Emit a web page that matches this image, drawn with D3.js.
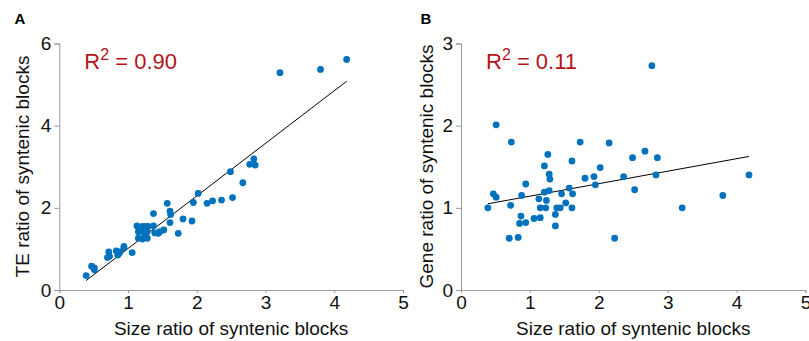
<!DOCTYPE html>
<html lang="en">
<head>
<meta charset="UTF-8" />
<title>Syntenic blocks</title>
<script src="https://d3js.org/d3.v7.js"></script>
<style>
    body { margin: 0; background: #fff; }
    svg text { font-family: "Liberation Sans", Arial, Helvetica, sans-serif; }
</style>
</head>
<body>
<script>
    var w = 809;
    var h = 341;

    // shared x values (size ratio) and y values for each panel
    var sizeRatio = [0.39,0.47,0.51,0.51,0.70,0.72,0.73,0.83,0.85,0.87,0.88,0.94,0.94,1.06,1.13,1.15,1.15,1.21,1.21,1.23,1.24,1.26,1.28,1.28,1.29,1.37,1.37,1.39,1.44,1.46,1.52,1.57,1.61,1.61,1.62,1.73,1.80,1.93,1.95,2.02,2.15,2.23,2.36,2.49,2.52,2.67,2.77,2.83,2.85,3.21,3.80,4.18];
    var teRatio = [0.35,0.58,0.54,0.49,0.79,0.93,0.82,0.95,0.85,0.89,0.93,1.06,1.02,0.91,1.56,1.42,1.26,1.55,1.24,1.42,1.34,1.55,1.26,1.42,1.55,1.86,1.56,1.39,1.38,1.42,1.46,2.11,1.64,1.92,1.84,1.38,1.73,1.68,2.13,2.35,2.11,2.17,2.19,2.88,2.25,2.61,3.06,3.19,3.04,5.29,5.37,5.61];
    var geneRatio = [1.00,1.17,1.13,2.01,0.63,1.03,1.80,0.64,0.81,0.90,1.15,1.29,0.82,0.87,1.11,1.00,0.88,1.51,1.19,1.00,1.09,1.65,1.41,1.21,1.35,0.92,0.78,1.00,1.00,1.17,1.06,1.24,1.57,1.00,1.17,1.80,1.36,1.38,1.28,1.49,1.79,0.63,1.38,1.61,1.22,1.69,2.73,1.40,1.61,1.00,1.15,1.40];

    // fitted lines: [slope, intercept]
    var fitA = [1.28, -0.27];
    var fitB = [0.152, 0.99];

    var xTicks = [0,1,2,3,4,5];
    var yTicksA = [0,2,4,6];
    var yTicksB = [0,1,2,3];

    var svg = d3.select("body")
        .append("svg")
        .attr("width", w)
        .attr("height", h);

    function panel(opt) {
        var xScale = d3.scaleLinear().domain([0,5]).range([opt.left, opt.right]);
        var yScale = d3.scaleLinear().domain([0, opt.yMax]).range([290, 43.5]);
        var g = svg.append("g");

        g.append("g")
            .attr("transform", "translate(0,290)")
            .call(d3.axisBottom(xScale).tickValues(xTicks).tickFormat(d3.format("d"))
                .tickSize(3).tickSizeOuter(3).tickPadding(3));
        g.append("g")
            .attr("transform", "translate(" + opt.left + ",0)")
            .call(d3.axisLeft(yScale).tickValues(opt.yTicks).tickFormat(d3.format("d"))
                .tickSize(5).tickSizeOuter(5).tickPadding(3));

        g.selectAll(".domain, .tick line").attr("stroke", "#999");
        g.selectAll(".tick text")
            .attr("font-size", 19)
            .attr("fill", "#111")
            .style("font-family", "'Liberation Sans', Arial, sans-serif");

        // regression line
        var x0 = d3.min(sizeRatio), x1 = d3.max(sizeRatio);
        g.append("line")
            .attr("x1", xScale(x0))
            .attr("y1", yScale(opt.fit[0] * x0 + opt.fit[1]))
            .attr("x2", xScale(x1))
            .attr("y2", yScale(opt.fit[0] * x1 + opt.fit[1]))
            .attr("stroke", "#000")
            .attr("stroke-width", 1);

        g.selectAll("circle")
            .data(opt.values)
            .enter()
            .append("circle")
            .attr("cx", function(d, i){ return xScale(sizeRatio[i]); })
            .attr("cy", function(d){ return yScale(d); })
            .attr("r", 3.4)
            .attr("fill", "#0072BD");

        // axis titles
        g.append("text")
            .attr("x", (opt.left + opt.right) / 2)
            .attr("y", 335)
            .attr("text-anchor", "middle")
            .attr("font-size", 19)
            .attr("fill", "#111")
            .text("Size ratio of syntenic blocks");
        g.append("text")
            .attr("transform", "translate(" + opt.titleX + ",166.5) rotate(-90)")
            .attr("text-anchor", "middle")
            .attr("font-size", 19)
            .attr("fill", "#111")
            .text(opt.yTitle);

        // R squared
        var r2 = g.append("text")
            .attr("x", opt.left + 25)
            .attr("y", 69)
            .attr("font-size", 22)
            .attr("fill", "#b3141c");
        r2.append("tspan").text("R");
        r2.append("tspan").attr("font-size", 16).attr("dy", -9).text("2");
        r2.append("tspan").attr("dy", 9).text(" = " + opt.r2);

        // panel letter
        g.append("text")
            .attr("x", opt.letterX)
            .attr("y", 23.5)
            .attr("font-size", 15)
            .attr("font-weight", "bold")
            .attr("fill", "#000")
            .text(opt.letter);
    }

    panel({left: 59.3, right: 403, yMax: 6, yTicks: yTicksA, values: teRatio, fit: fitA,
           yTitle: "TE ratio of syntenic blocks", titleX: 28.5, r2: "0.90", letter: "A", letterX: 14.5});
    panel({left: 461, right: 805.5, yMax: 3, yTicks: yTicksB, values: geneRatio, fit: fitB,
           yTitle: "Gene ratio of syntenic blocks", titleX: 433, r2: "0.11", letter: "B", letterX: 420.5});
</script>
</body>
</html>
